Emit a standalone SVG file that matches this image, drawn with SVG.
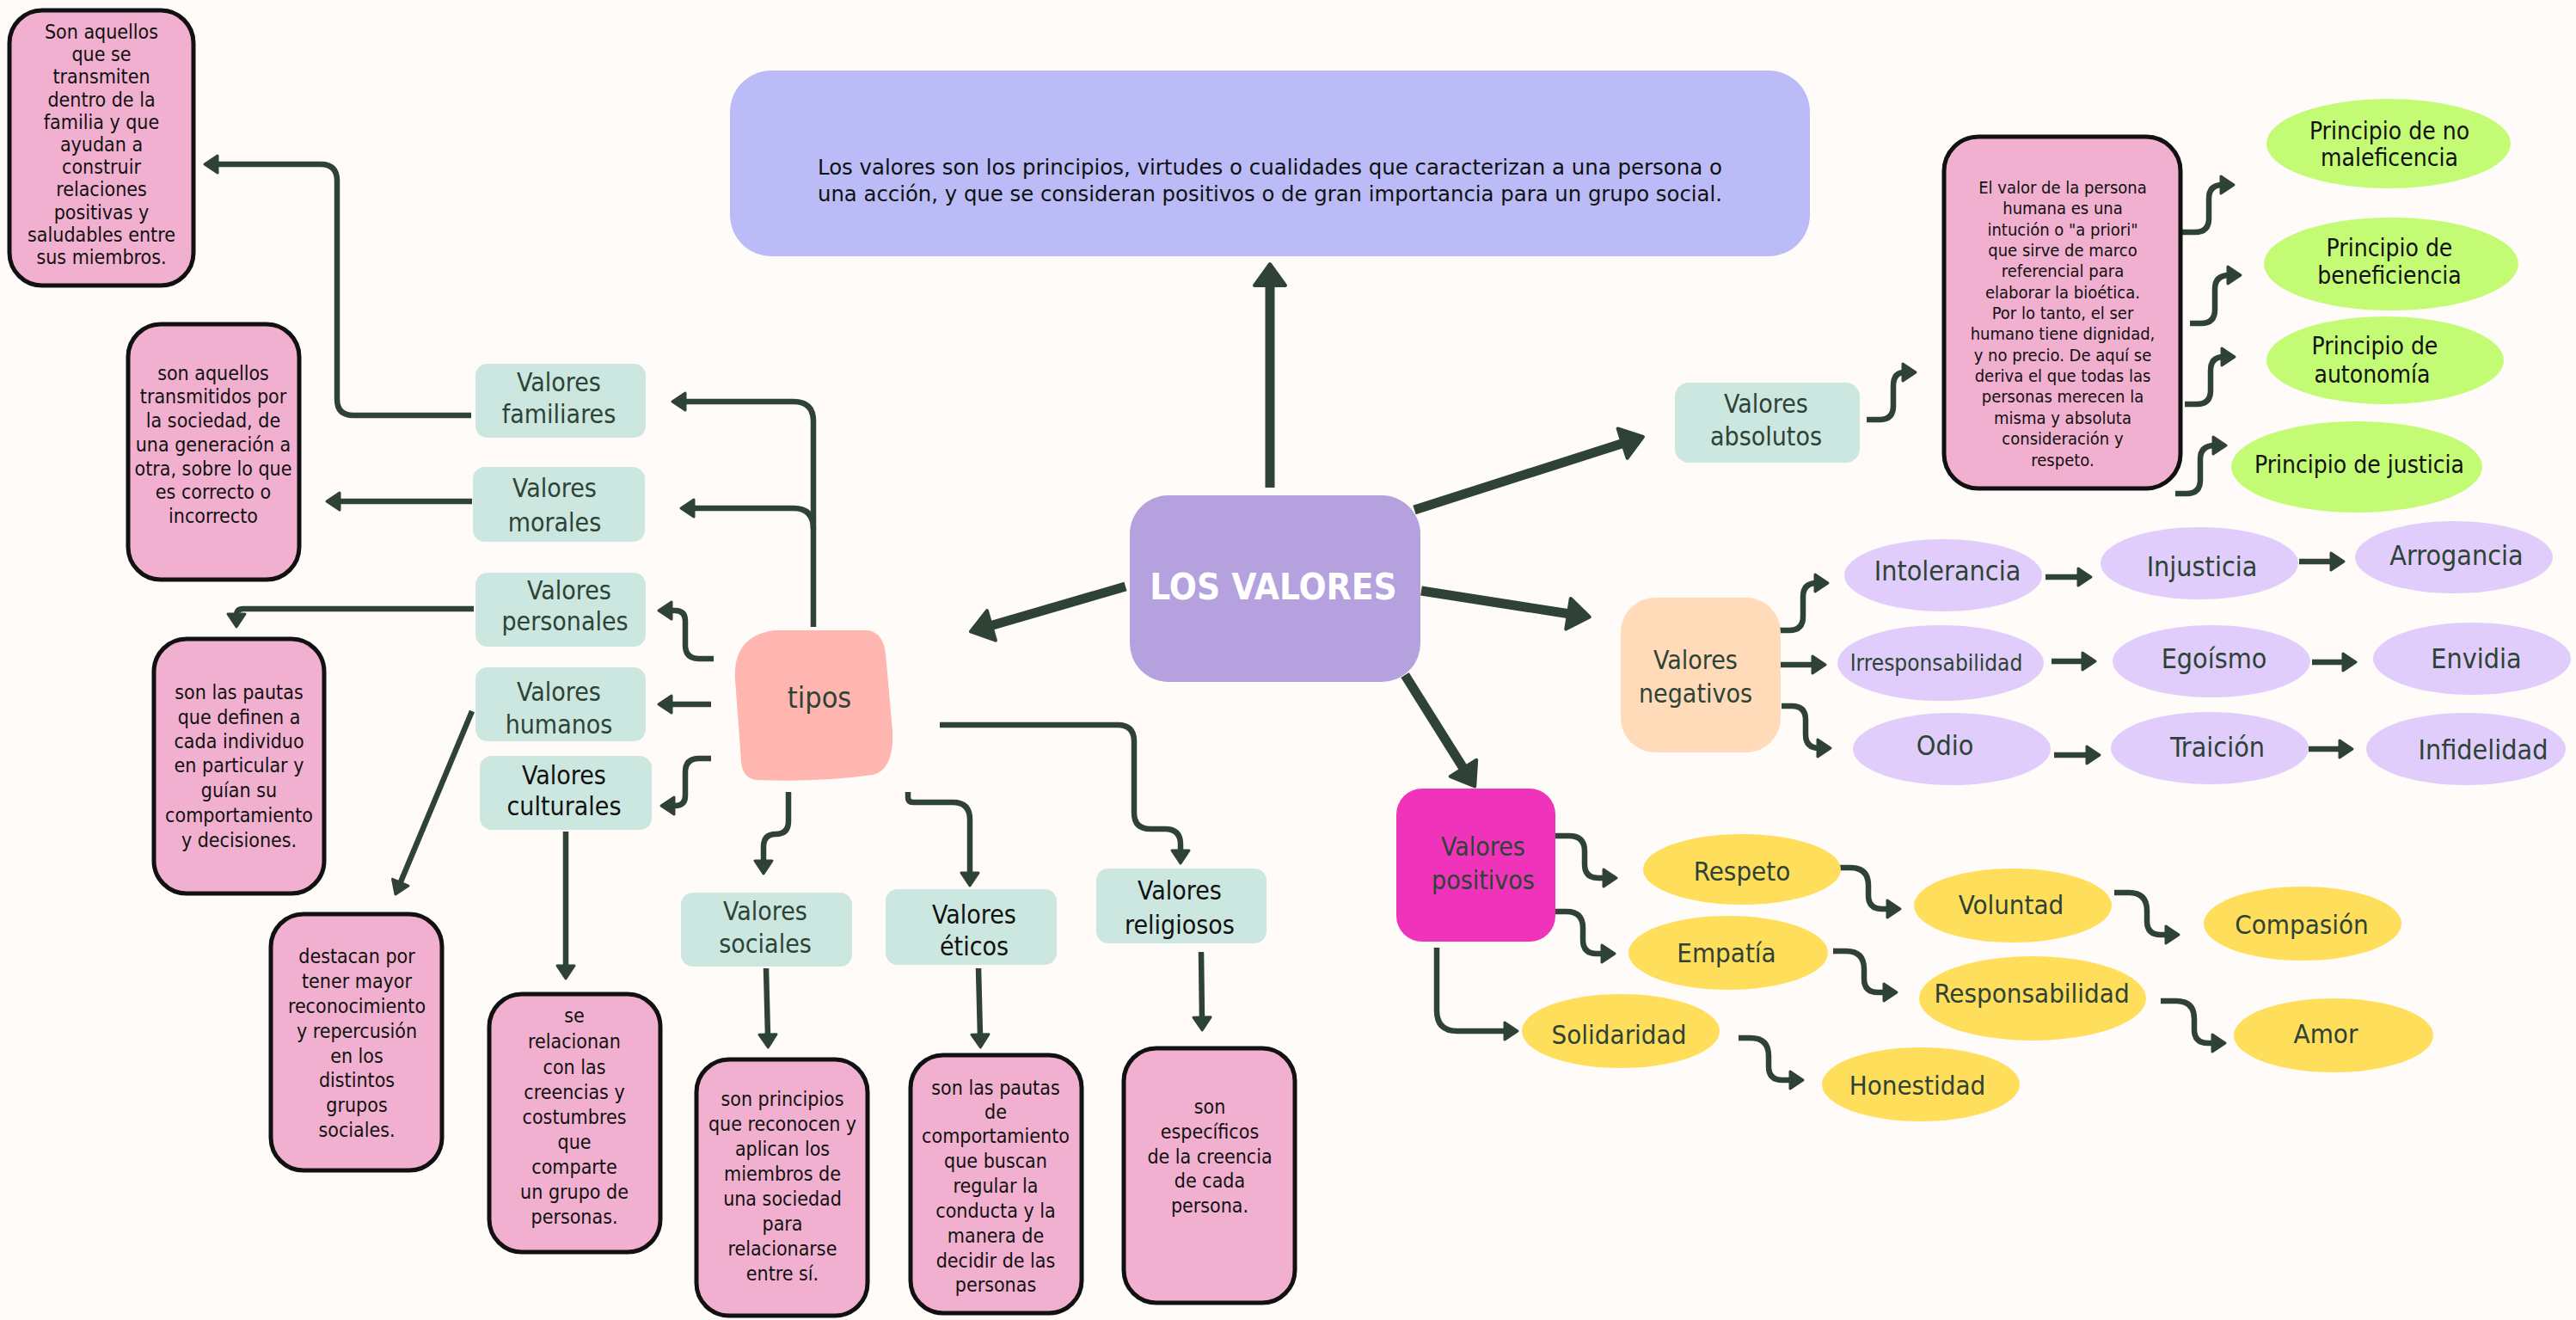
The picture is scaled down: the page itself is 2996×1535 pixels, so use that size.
<svg xmlns="http://www.w3.org/2000/svg" width="2996" height="1535" viewBox="0 0 2996 1535">
<style>
text{font-family:"DejaVu Sans Condensed","DejaVu Sans",sans-serif;font-stretch:condensed;text-anchor:middle;fill:#2E4335}
.pk{fill:#F1B0CF;stroke:#111;stroke-width:5}
.tl{fill:#CCE7E0}
.gr{fill:#C3FC74}
.lv{fill:#E0CDFC}
.yl{fill:#FFDE5C}
.d{font-size:23px;fill:#111}
.di{font-size:20px;fill:#111}
.v{font-size:30px}
.k{fill:#111}
.e{font-size:32px}
.y{font-size:31px}
.g{font-size:28px;fill:#111}
.c{stroke:#2E4335;fill:none;stroke-width:6.5;marker-end:url(#ah);stroke-linejoin:round}
.ct{stroke:#2E4335;fill:none;stroke-width:11;marker-end:url(#ahb)}
</style>
<defs>
<marker id="ah" markerUnits="userSpaceOnUse" markerWidth="40" markerHeight="40" refX="2" refY="0" orient="auto" overflow="visible">
<path d="M0,-10 L15,0 L0,10 Z" fill="#2E4335" stroke="#2E4335" stroke-width="3" stroke-linejoin="round"/>
</marker>
<marker id="ahb" markerUnits="userSpaceOnUse" markerWidth="60" markerHeight="60" refX="2" refY="0" orient="auto" overflow="visible">
<path d="M0,-18 L25,0 L0,18 Z" fill="#2E4335" stroke="#2E4335" stroke-width="4" stroke-linejoin="round"/>
</marker>
</defs>
<rect width="2996" height="1535" fill="#FFFBF8"/>

<g id="connectors">
<path class="ct" d="M1477 567 V330"/>
<path class="ct" d="M1309 682 L1151 728"/>
<path class="ct" d="M1645 593 L1889 515"/>
<path class="ct" d="M1653 687 L1826 714"/>
<path class="ct" d="M1634 785 L1703 895"/>

<path class="c" d="M946 729 V490 Q946 467 923 467 H795"/>
<path class="c" d="M946 615 Q946 591 923 591 H805"/>
<path class="c" d="M830 766 H813 Q797 766 797 750 V722 Q797 710 785 710 H779"/>
<path class="c" d="M827 819 H779"/>
<path class="c" d="M827 882 H813 Q797 882 797 898 V925 Q797 937 785 937 H782"/>
<path class="c" d="M917 921 V955 Q917 970 902 970 Q888 970 888 985 V1003"/>
<path class="c" d="M1056 921 V927 Q1056 933 1062 933 H1108 Q1128 933 1128 953 V1017"/>
<path class="c" d="M1093 843 H1300 Q1319 843 1319 862 V945 Q1319 964 1338 964 H1355 Q1373 964 1373 982 V991"/>

<path class="c" d="M548 483 H411 Q392 483 392 464 V210 Q392 191 373 191 H251"/>
<path class="c" d="M549 583 H393"/>
<path class="c" d="M551 708 H283 Q275 708 275 716"/>
<path class="c" d="M549 827 L465 1028"/>
<path class="c" d="M658 967 V1125"/>
<path class="c" d="M891 1126 L893 1205"/>
<path class="c" d="M1138 1126 L1140 1205"/>
<path class="c" d="M1397 1107 L1398 1185"/>

<path class="c" d="M2171 488 H2186 Q2202 488 2202 472 V449 Q2202 433 2215 433"/>
<path class="c" d="M2537 270 H2553 Q2569 270 2569 254 V231 Q2569 215 2585 215"/>
<path class="c" d="M2547 376 H2560 Q2576 376 2576 360 V336 Q2576 320 2593 320"/>
<path class="c" d="M2541 470 H2555 Q2571 470 2571 454 V431 Q2571 415 2586 415"/>
<path class="c" d="M2530 574 H2543 Q2559 574 2559 558 V534 Q2559 518 2576 518"/>

<path class="c" d="M2067 733 H2081 Q2097 733 2097 717 V694 Q2097 678 2113 678"/>
<path class="c" d="M2070 773 H2110"/>
<path class="c" d="M2072 821 H2084 Q2100 821 2100 837 V854 Q2100 870 2116 870"/>
<path class="c" d="M2379 671 H2419"/>
<path class="c" d="M2674 653 H2713"/>
<path class="c" d="M2386 769 H2424"/>
<path class="c" d="M2689 770 H2727"/>
<path class="c" d="M2389 878 H2429"/>
<path class="c" d="M2685 871 H2723"/>

<path class="c" d="M1809 972 H1825 Q1843 972 1843 990 V1005 Q1843 1021 1859 1021 H1867"/>
<path class="c" d="M1804 1060 H1822 Q1841 1060 1841 1079 V1093 Q1841 1109 1857 1109 H1865"/>
<path class="c" d="M1671 1102 V1175 Q1671 1199 1695 1199 H1752"/>
<path class="c" d="M2137 1009 H2152 Q2173 1009 2173 1030 V1041 Q2173 1057 2189 1057 H2197"/>
<path class="c" d="M2132 1106 H2147 Q2168 1106 2168 1127 V1138 Q2168 1154 2184 1154 H2193"/>
<path class="c" d="M2022 1207 H2036 Q2057 1207 2057 1228 V1240 Q2057 1256 2073 1256 H2084"/>
<path class="c" d="M2459 1038 H2476 Q2497 1038 2497 1059 V1071 Q2497 1087 2513 1087 H2521"/>
<path class="c" d="M2513 1164 H2531 Q2552 1164 2552 1185 V1197 Q2552 1213 2568 1213 H2575"/>
</g>

<g id="definicion">
<rect x="849" y="82" width="1256" height="216" rx="48" fill="#BBBCF7"/>
<text style="text-anchor:start;font-size:25px;fill:#111"><tspan x="951" y="203" textLength="1052" lengthAdjust="spacingAndGlyphs">Los valores son los principios, virtudes o cualidades que caracterizan a una persona o</tspan><tspan x="951" y="234" textLength="1052" lengthAdjust="spacingAndGlyphs">una acción, y que se consideran positivos o de gran importancia para un grupo social.</tspan></text>
</g>

<g id="los-valores">
<rect x="1314" y="576" width="338" height="217" rx="45" fill="#B4A1DE"/>
<text x="1481" y="697" style="font-size:42px;font-weight:bold;fill:#fff">LOS VALORES</text>
</g>

<g id="tipos">
<path d="M900 733 L1010 733 Q1027 736 1030 760 L1038 850 Q1040 895 1015 901 Q950 910 880 907 Q863 905 862 885 L855 790 Q852 740 900 733 Z" fill="#FFB6B0"/>
<text x="953" y="823" style="font-size:34px">tipos</text>
</g>

<g id="valores-familiares"><rect class="tl" x="553" y="423" width="198" height="86" rx="14"/><text class="v"><tspan x="650" y="455">Valores</tspan><tspan x="650" y="492">familiares</tspan></text></g>
<g id="valores-morales"><rect class="tl" x="550" y="543" width="200" height="87" rx="14"/><text class="v"><tspan x="645" y="578">Valores</tspan><tspan x="645" y="618">morales</tspan></text></g>
<g id="valores-personales"><rect class="tl" x="553" y="666" width="198" height="86" rx="14"/><text class="v"><tspan x="662" y="697">Valores</tspan><tspan x="657" y="733">personales</tspan></text></g>
<g id="valores-humanos"><rect class="tl" x="553" y="776" width="198" height="86" rx="14"/><text class="v"><tspan x="650" y="815">Valores</tspan><tspan x="650" y="853">humanos</tspan></text></g>
<g id="valores-culturales"><rect class="tl" x="558" y="879" width="200" height="86" rx="14"/><text class="v k"><tspan x="656" y="912">Valores</tspan><tspan x="656" y="948">culturales</tspan></text></g>
<g id="valores-sociales"><rect class="tl" x="792" y="1038" width="199" height="86" rx="14"/><text class="v"><tspan x="890" y="1070">Valores</tspan><tspan x="890" y="1108">sociales</tspan></text></g>
<g id="valores-eticos"><rect class="tl" x="1030" y="1034" width="199" height="88" rx="14"/><text class="v k"><tspan x="1133" y="1074">Valores</tspan><tspan x="1133" y="1111">éticos</tspan></text></g>
<g id="valores-religiosos"><rect class="tl" x="1275" y="1010" width="198" height="87" rx="14"/><text class="v k"><tspan x="1372" y="1046">Valores</tspan><tspan x="1372" y="1086">religiosos</tspan></text></g>
<g id="valores-absolutos"><rect class="tl" x="1948" y="445" width="215" height="93" rx="16"/><text class="v"><tspan x="2054" y="480">Valores</tspan><tspan x="2054" y="518">absolutos</tspan></text></g>

<g id="valores-negativos"><rect x="1885" y="695" width="186" height="180" rx="40" fill="#FFDBBA"/><text class="v"><tspan x="1972" y="778">Valores</tspan><tspan x="1972" y="817">negativos</tspan></text></g>
<g id="valores-positivos"><rect x="1624" y="917" width="185" height="178" rx="30" fill="#F033BB"/><text class="v"><tspan x="1725" y="995">Valores</tspan><tspan x="1725" y="1034">positivos</tspan></text></g>

<g id="desc-familiares"><rect class="pk" x="11" y="12" width="214" height="320" rx="38"/><text class="d"><tspan x="118" y="45">Son aquellos</tspan><tspan x="118" y="71">que se</tspan><tspan x="118" y="97">transmiten</tspan><tspan x="118" y="124">dentro de la</tspan><tspan x="118" y="150">familia y que</tspan><tspan x="118" y="176">ayudan a</tspan><tspan x="118" y="202">construir</tspan><tspan x="118" y="228">relaciones</tspan><tspan x="118" y="255">positivas y</tspan><tspan x="118" y="281">saludables entre</tspan><tspan x="118" y="307">sus miembros.</tspan></text></g>
<g id="desc-morales"><rect class="pk" x="149" y="377" width="199" height="297" rx="38"/><text class="d"><tspan x="248" y="442">son aquellos</tspan><tspan x="248" y="469">transmitidos por</tspan><tspan x="248" y="497">la sociedad, de</tspan><tspan x="248" y="525">una generación a</tspan><tspan x="248" y="553">otra, sobre lo que</tspan><tspan x="248" y="580">es correcto o</tspan><tspan x="248" y="608">incorrecto</tspan></text></g>
<g id="desc-personales"><rect class="pk" x="179" y="743" width="198" height="296" rx="38"/><text class="d"><tspan x="278" y="813">son las pautas</tspan><tspan x="278" y="842">que definen a</tspan><tspan x="278" y="870">cada individuo</tspan><tspan x="278" y="898">en particular y</tspan><tspan x="278" y="927">guían su</tspan><tspan x="278" y="956">comportamiento</tspan><tspan x="278" y="985">y decisiones.</tspan></text></g>
<g id="desc-humanos"><rect class="pk" x="315" y="1063" width="199" height="298" rx="38"/><text class="d"><tspan x="415" y="1120">destacan por</tspan><tspan x="415" y="1149">tener mayor</tspan><tspan x="415" y="1178">reconocimiento</tspan><tspan x="415" y="1207">y repercusión</tspan><tspan x="415" y="1236">en los</tspan><tspan x="415" y="1264">distintos</tspan><tspan x="415" y="1293">grupos</tspan><tspan x="415" y="1322">sociales.</tspan></text></g>
<g id="desc-culturales"><rect class="pk" x="569" y="1156" width="199" height="300" rx="38"/><text class="d"><tspan x="668" y="1189">se</tspan><tspan x="668" y="1219">relacionan</tspan><tspan x="668" y="1249">con las</tspan><tspan x="668" y="1278">creencias y</tspan><tspan x="668" y="1307">costumbres</tspan><tspan x="668" y="1336">que</tspan><tspan x="668" y="1365">comparte</tspan><tspan x="668" y="1394">un grupo de</tspan><tspan x="668" y="1423">personas.</tspan></text></g>
<g id="desc-sociales"><rect class="pk" x="810" y="1232" width="199" height="298" rx="38"/><text class="d"><tspan x="910" y="1286">son principios</tspan><tspan x="910" y="1315">que reconocen y</tspan><tspan x="910" y="1344">aplican los</tspan><tspan x="910" y="1373">miembros de</tspan><tspan x="910" y="1402">una sociedad</tspan><tspan x="910" y="1431">para</tspan><tspan x="910" y="1460">relacionarse</tspan><tspan x="910" y="1489">entre sí.</tspan></text></g>
<g id="desc-eticos"><rect class="pk" x="1059" y="1227" width="199" height="300" rx="38"/><text class="d"><tspan x="1158" y="1273">son las pautas</tspan><tspan x="1158" y="1301">de</tspan><tspan x="1158" y="1329">comportamiento</tspan><tspan x="1158" y="1358">que buscan</tspan><tspan x="1158" y="1387">regular la</tspan><tspan x="1158" y="1416">conducta y la</tspan><tspan x="1158" y="1445">manera de</tspan><tspan x="1158" y="1474">decidir de las</tspan><tspan x="1158" y="1502">personas</tspan></text></g>
<g id="desc-religiosos"><rect class="pk" x="1307" y="1219" width="199" height="296" rx="38"/><text class="d"><tspan x="1407" y="1295">son</tspan><tspan x="1407" y="1324">específicos</tspan><tspan x="1407" y="1353">de la creencia</tspan><tspan x="1407" y="1381">de cada</tspan><tspan x="1407" y="1410">persona.</tspan></text></g>
<g id="desc-absolutos"><rect class="pk" x="2261" y="159" width="275" height="409" rx="40"/><text class="di"><tspan x="2399" y="225">El valor de la persona</tspan><tspan x="2399" y="249">humana es una</tspan><tspan x="2399" y="274">intución o "a priori"</tspan><tspan x="2399" y="298">que sirve de marco</tspan><tspan x="2399" y="322">referencial para</tspan><tspan x="2399" y="347">elaborar la bioética.</tspan><tspan x="2399" y="371">Por lo tanto, el ser</tspan><tspan x="2399" y="395">humano tiene dignidad,</tspan><tspan x="2399" y="420">y no precio. De aquí se</tspan><tspan x="2399" y="444">deriva el que todas las</tspan><tspan x="2399" y="468">personas merecen la</tspan><tspan x="2399" y="493">misma y absoluta</tspan><tspan x="2399" y="517">consideración y</tspan><tspan x="2399" y="542">respeto.</tspan></text></g>

<g id="p-no-maleficencia"><ellipse class="gr" cx="2778" cy="167" rx="142" ry="52"/><text class="g"><tspan x="2779" y="162">Principio de no</tspan><tspan x="2779" y="193">maleficencia</tspan></text></g>
<g id="p-beneficiencia"><ellipse class="gr" cx="2781" cy="307" rx="148" ry="54"/><text class="g"><tspan x="2779" y="298">Principio de</tspan><tspan x="2779" y="330">beneficiencia</tspan></text></g>
<g id="p-autonomia"><ellipse class="gr" cx="2774" cy="419" rx="138" ry="51"/><text class="g"><tspan x="2762" y="412">Principio de</tspan><tspan x="2759" y="445">autonomía</tspan></text></g>
<g id="p-justicia"><ellipse class="gr" cx="2741" cy="543" rx="146" ry="53"/><text class="g" x="2744" y="550">Principio de justicia</text></g>

<g id="intolerancia"><ellipse class="lv" cx="2260" cy="669" rx="115" ry="42"/><text class="e" x="2265" y="675">Intolerancia</text></g>
<g id="injusticia"><ellipse class="lv" cx="2558" cy="655" rx="115" ry="42"/><text class="e" x="2561" y="670">Injusticia</text></g>
<g id="arrogancia"><ellipse class="lv" cx="2854" cy="648" rx="115" ry="42"/><text class="e" x="2857" y="657">Arrogancia</text></g>
<g id="irresponsabilidad"><ellipse class="lv" cx="2257" cy="771" rx="120" ry="44"/><text x="2252" y="780" style="font-size:26px">Irresponsabilidad</text></g>
<g id="egoismo"><ellipse class="lv" cx="2572" cy="769" rx="115" ry="42"/><text class="e" x="2575" y="777">Egoísmo</text></g>
<g id="envidia"><ellipse class="lv" cx="2875" cy="766" rx="115" ry="42"/><text class="e" x="2880" y="777">Envidia</text></g>
<g id="odio"><ellipse class="lv" cx="2270" cy="871" rx="115" ry="42"/><text class="e" x="2262" y="878">Odio</text></g>
<g id="traicion"><ellipse class="lv" cx="2570" cy="870" rx="115" ry="42"/><text class="e" x="2579" y="880">Traición</text></g>
<g id="infidelidad"><ellipse class="lv" cx="2868" cy="871" rx="116" ry="42"/><text class="e" x="2888" y="883">Infidelidad</text></g>

<g id="respeto"><ellipse class="yl" cx="2026" cy="1011" rx="115" ry="41"/><text class="y" x="2026" y="1024">Respeto</text></g>
<g id="empatia"><ellipse class="yl" cx="2010" cy="1108" rx="116" ry="43"/><text class="y" x="2008" y="1119">Empatía</text></g>
<g id="solidaridad"><ellipse class="yl" cx="1885" cy="1199" rx="115" ry="43"/><text class="y" x="1883" y="1214">Solidaridad</text></g>
<g id="voluntad"><ellipse class="yl" cx="2341" cy="1053" rx="115" ry="43"/><text class="y" x="2339" y="1063">Voluntad</text></g>
<g id="responsabilidad"><ellipse class="yl" cx="2364" cy="1161" rx="132" ry="49"/><text class="y" x="2363" y="1166">Responsabilidad</text></g>
<g id="honestidad"><ellipse class="yl" cx="2234" cy="1261" rx="115" ry="43"/><text class="y" x="2230" y="1273">Honestidad</text></g>
<g id="compasion"><ellipse class="yl" cx="2678" cy="1074" rx="115" ry="43"/><text class="y" x="2677" y="1086">Compasión</text></g>
<g id="amor"><ellipse class="yl" cx="2714" cy="1204" rx="116" ry="43"/><text class="y" x="2705" y="1213">Amor</text></g>
</svg>
